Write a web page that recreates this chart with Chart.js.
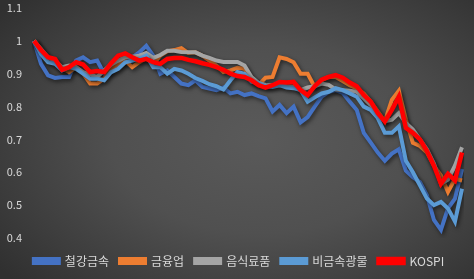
<!DOCTYPE html>
<html>
<head>
<meta charset="utf-8">
<script src="https://cdn.jsdelivr.net/npm/chart.js@4"></script>
<style>
  html, body { margin: 0; padding: 0; }
  body {
    width: 474px; height: 279px; overflow: hidden;
    background: radial-gradient(ellipse 70% 75% at 55% 50%, #5a5a5a 0%, #505050 45%, #3c3c3c 80%, #303030 100%);
  }
  #wrap { position: relative; width: 474px; height: 279px; }
</style>
</head>
<body>
<div id="wrap"><canvas id="chart"></canvas></div>
<script>
// weekly index, first week = 1
const weeks = Array.from({ length: 62 }, (_, i) => String(i + 1));

const yTicks = [0.4, 0.5, 0.6, 0.7, 0.8, 0.9, 1, 1.1];

const seriesNames = ['철강금속', '금융업', '음식료품', '비금속광물', 'KOSPI'];

const steel = [1.0, 0.93, 0.895, 0.887, 0.89, 0.89, 0.94, 0.95, 0.935, 0.94,
  0.9, 0.905, 0.92, 0.935, 0.95, 0.965, 0.985, 0.955, 0.9, 0.91,
  0.89, 0.87, 0.865, 0.88, 0.86, 0.855, 0.85, 0.858, 0.84, 0.845,
  0.835, 0.84, 0.832, 0.825, 0.785, 0.805, 0.78, 0.8, 0.752, 0.768,
  0.8, 0.83, 0.845, 0.85, 0.842, 0.815, 0.79, 0.72, 0.69, 0.66,
  0.635, 0.657, 0.67, 0.605, 0.585, 0.57, 0.53, 0.455, 0.425, 0.49,
  0.52, 0.61];

const finance = [1.0, 0.975, 0.94, 0.935, 0.917, 0.905, 0.92, 0.9, 0.87, 0.87,
  0.885, 0.915, 0.93, 0.94, 0.92, 0.935, 0.948, 0.93, 0.955, 0.968,
  0.972, 0.978, 0.963, 0.965, 0.955, 0.94, 0.925, 0.905, 0.91, 0.918,
  0.915, 0.885, 0.866, 0.888, 0.89, 0.95, 0.945, 0.935, 0.9, 0.9,
  0.86, 0.88, 0.89, 0.89, 0.878, 0.865, 0.855, 0.84, 0.815, 0.785,
  0.755, 0.82, 0.848, 0.76, 0.69, 0.68, 0.66, 0.62, 0.59, 0.54,
  0.58, 0.575];

const food = [1.0, 0.975, 0.95, 0.94, 0.92, 0.925, 0.92, 0.905, 0.898, 0.89,
  0.91, 0.928, 0.94, 0.95, 0.952, 0.955, 0.963, 0.948, 0.957, 0.97,
  0.97, 0.966, 0.965, 0.965, 0.955, 0.948, 0.94, 0.936, 0.936, 0.936,
  0.925, 0.89, 0.872, 0.866, 0.865, 0.865, 0.862, 0.86, 0.85, 0.858,
  0.862, 0.87, 0.866, 0.852, 0.85, 0.848, 0.845, 0.825, 0.805, 0.775,
  0.755, 0.76, 0.78, 0.75, 0.73, 0.7, 0.67, 0.627, 0.565, 0.578,
  0.62, 0.676];

const mineral = [1.0, 0.96, 0.935, 0.93, 0.91, 0.92, 0.915, 0.9, 0.885, 0.885,
  0.88, 0.905, 0.915, 0.935, 0.94, 0.945, 0.955, 0.92, 0.92, 0.9,
  0.915, 0.91, 0.9, 0.887, 0.878, 0.868, 0.862, 0.852, 0.88, 0.905,
  0.9, 0.876, 0.872, 0.862, 0.86, 0.865, 0.858, 0.856, 0.85, 0.815,
  0.828, 0.84, 0.845, 0.856, 0.85, 0.84, 0.83, 0.8, 0.79, 0.765,
  0.72, 0.72, 0.74, 0.635, 0.6, 0.56, 0.52, 0.5, 0.51, 0.49,
  0.45, 0.55];

const kospi = [1.0, 0.972, 0.95, 0.945, 0.912, 0.92, 0.935, 0.928, 0.905, 0.908,
  0.905, 0.932, 0.955, 0.962, 0.95, 0.94, 0.945, 0.935, 0.93, 0.945,
  0.948, 0.948, 0.942, 0.938, 0.932, 0.927, 0.92, 0.912, 0.9, 0.893,
  0.89, 0.88, 0.865, 0.858, 0.865, 0.875, 0.873, 0.875, 0.85, 0.835,
  0.862, 0.882, 0.89, 0.896, 0.888, 0.873, 0.862, 0.835, 0.815, 0.78,
  0.755, 0.79, 0.83, 0.735, 0.72, 0.7, 0.665, 0.62, 0.565, 0.595,
  0.575, 0.66];

const colors = ['#4472C4', '#ED7D31', '#A5A5A5', '#5B9BD5', '#FF0000'];
const widths = [4, 4, 4, 4, 4.5];
const values = [steel, finance, food, mineral, kospi];

// soft dark shadow under the lines
const lineShadow = {
  id: 'lineShadow',
  beforeDatasetsDraw(chart) {
    const ctx = chart.ctx;
    ctx.save();
    ctx.shadowColor = 'rgba(0,0,0,0.55)';
    ctx.shadowBlur = 4;
    ctx.shadowOffsetX = 1.5;
    ctx.shadowOffsetY = 2;
  },
  afterDatasetsDraw(chart) {
    chart.ctx.restore();
  }
};

// nudge the legend row a bit to the right
const legendShift = {
  id: 'legendShift',
  afterLayout(chart) {
    if (chart.legend) {
      chart.legend.left += 8;
      chart.legend.right += 8;
    }
  }
};

new Chart(document.getElementById('chart'), {
  type: 'line',
  data: {
    labels: weeks,
    datasets: seriesNames.map((name, i) => ({
      label: name,
      data: values[i],
      borderColor: colors[i],
      backgroundColor: colors[i],
      borderWidth: widths[i],
      pointRadius: 0,
      tension: 0,
      order: seriesNames.length - 1 - i
    }))
  },
  options: {
    responsive: true,
    maintainAspectRatio: false,
    animation: false,
    layout: { padding: { left: 0, right: 12, top: 0, bottom: 2 } },
    scales: {
      x: { display: false, offset: false },
      y: {
        min: 0.4,
        max: 1.1,
        grid: { display: false, drawTicks: false },
        border: { display: false },
        afterBuildTicks: axis => { axis.ticks = yTicks.map(v => ({ value: v })); },
        afterFit: axis => {
          axis.width = 34;
          axis.paddingTop = 8;
          axis.paddingBottom = 8;
        },
        ticks: {
          color: '#d9d9d9',
          padding: 12,
          font: { family: '"Noto Sans CJK KR", "Noto Sans", sans-serif', size: 11 },
          callback: v => String(v)
        }
      }
    },
    plugins: {
      legend: {
        position: 'bottom',
        // empty spacer title pushes the legend row down a little
        title: { display: true, text: ' ', padding: 0, font: { size: 5 } },
        labels: {
          color: '#d9d9d9',
          boxWidth: 25,
          boxHeight: 4,
          padding: 11,
          font: { family: '"Noto Sans CJK KR", "Noto Sans", sans-serif', size: 12 },
          sort: (a, b) => a.datasetIndex - b.datasetIndex
        }
      },
      tooltip: { enabled: false }
    }
  },
  plugins: [lineShadow, legendShift]
});
</script>
</body>
</html>
